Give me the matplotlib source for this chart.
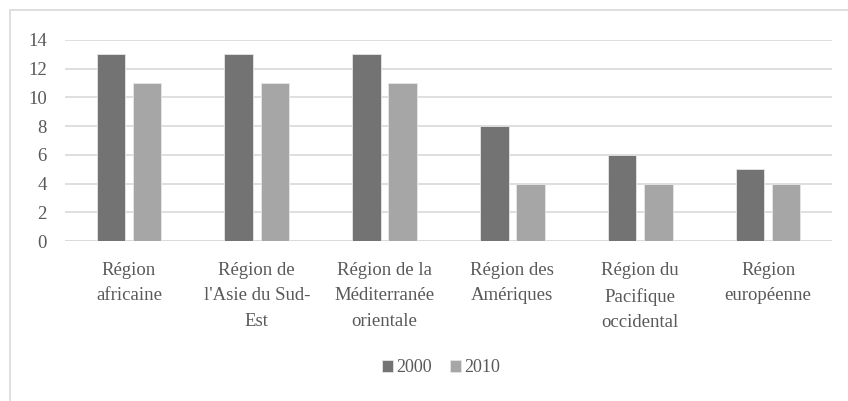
import matplotlib
matplotlib.use("Agg")
import matplotlib.pyplot as plt
from matplotlib.patches import Rectangle
import numpy as np

categories = ["Région\nafricaine", "Région de\nl'Asie du Sud-\nEst", "Région de la\nMéditerranée\norientale",
              "Région des\nAmériques", "Région du\nPacifique\noccidental", "Région\neuropéenne"]
series_names = ["2000", "2010"]
values_2000 = [13, 13, 13, 8, 6, 5]
values_2010 = [11, 11, 11, 4, 4, 4]
yticks = [0, 2, 4, 6, 8, 10, 12, 14]

plt.rcParams['font.family'] = ['Liberation Serif', 'DejaVu Serif']

W, H = 848, 401
fig = plt.figure(figsize=(W/100, H/100), dpi=100)
ax = fig.add_axes([65/W, 1-241/H, (832-65)/W, (241-40)/H])

x = np.arange(len(categories))
bw = 0.223
off = 0.141
c1, c2 = '#737373', '#a6a6a6'
ax.bar(x-off, values_2000, bw, color=c1, edgecolor='#e6e6e6', linewidth=0.6, label=series_names[0], zorder=3)
ax.bar(x+off, values_2010, bw, color=c2, edgecolor='#e6e6e6', linewidth=0.6, label=series_names[1], zorder=3)

ax.set_xlim(-0.5, len(categories)-0.5)
ax.set_ylim(0, 14)
ax.set_yticks(yticks)
ax.set_yticklabels([str(v) for v in yticks], fontsize=13.5, color='#595959')
ax.yaxis.grid(True, color='#d9d9d9', linewidth=1.2, zorder=0)
ax.tick_params(axis='y', length=0, pad=13)
ax.tick_params(axis='x', length=0, pad=15)
ax.set_xticks(x)
ax.set_xticklabels(categories, fontsize=13.5, color='#595959', linespacing=1.65, va='top')
for s in ax.spines.values():
    s.set_visible(False)
ax.axhline(0, color='#d9d9d9', linewidth=1.2, zorder=1)

leg = fig.legend(loc='center', bbox_to_anchor=(441/W, 1-368/H), ncol=2, frameon=False,
                 fontsize=13, handlelength=0.6, handleheight=0.6, handletextpad=0.2, columnspacing=1.0,
                 labelcolor='#595959')

fig.patches.append(Rectangle((10/W, -0.1), 1.2, 1-10/H+0.1, transform=fig.transFigure,
                             fill=False, edgecolor='#d9d9d9', linewidth=1.2))

fig.savefig("out.png", dpi=100)
